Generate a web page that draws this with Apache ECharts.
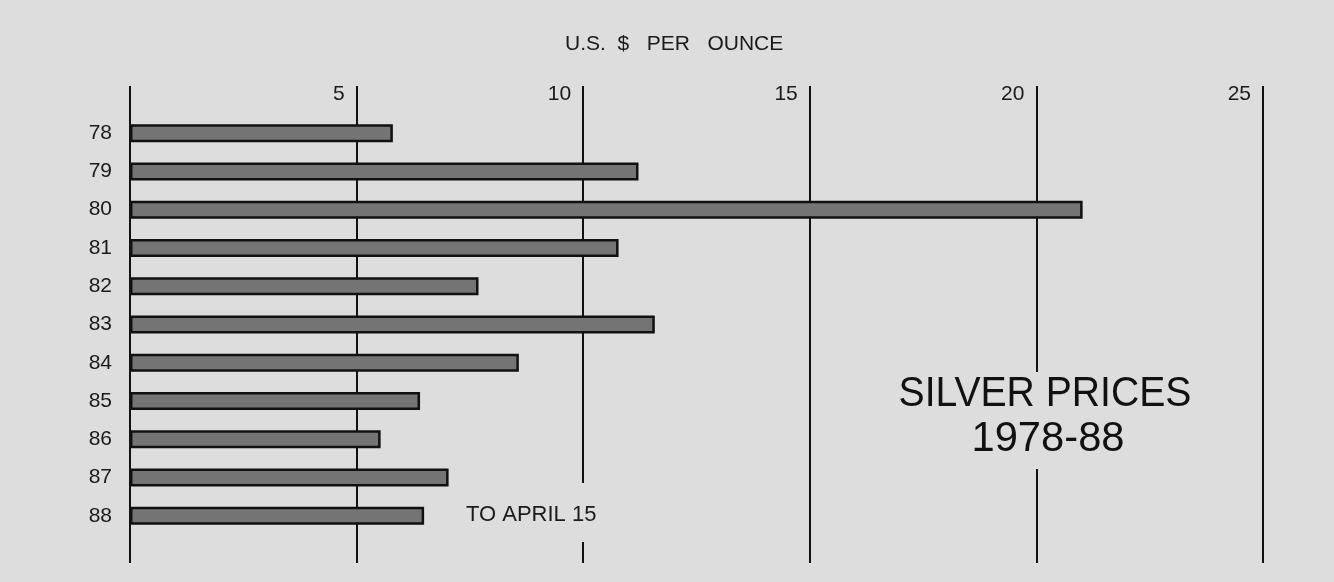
<!DOCTYPE html>
<html>
<head>
<meta charset="utf-8">
<script src="https://cdn.jsdelivr.net/npm/echarts@6/dist/echarts.min.js"></script>
<style>
html,body{margin:0;padding:0;background:#dddddd;}
#silver-chart{width:1334px;height:582px;}
</style>
</head>
<body>
<div id="silver-chart"></div>
<script>
var years=['78','79','80','81','82','83','84','85','86','87','88'];
var prices=[5.80, 11.22, 21.02, 10.78, 7.69, 11.58, 8.58, 6.40, 5.53, 7.03, 6.49];
var priceTicks=[0, 5, 10, 15, 20, 25];

var bg='#dddddd';
var font='"Liberation Sans", Arial, sans-serif';

var chart=echarts.init(document.getElementById('silver-chart'));
var option={
	backgroundColor:bg,
	animation:false,
	grid:[
		{left:130, right:71, top:86, bottom:19},
		{left:130, right:71, top:114, bottom:47}
	],
	xAxis:[{
		gridIndex:0,
		type:'value',
		position:'top',
		min:priceTicks[0],
		max:priceTicks[priceTicks.length-1],
		interval:5,
		axisLine:{show:false},
		axisTick:{show:false},
		splitLine:{show:true, lineStyle:{color:'#111', width:2}},
		axisLabel:{
			inside:true,
			margin:-2,
			align:'right',
			verticalAlign:'top',
			padding:[0,12,0,0],
			fontSize:21,
			fontFamily:font,
			color:'#1a1a1a',
			formatter:function(v){ return v===0 ? '' : String(v); }
		}
	},{
		gridIndex:1,
		type:'value',
		min:0,
		max:25,
		show:false
	}],
	yAxis:[{
		gridIndex:0,
		type:'category',
		data:years,
		show:false
	},{
		gridIndex:1,
		type:'category',
		data:years,
		inverse:true,
		axisLine:{show:false},
		axisTick:{show:false},
		axisLabel:{margin:18, fontSize:21, fontFamily:font, color:'#1a1a1a'}
	}],
	series:[{
		name:'silver',
		type:'bar',
		xAxisIndex:1,
		yAxisIndex:1,
		data:prices,
		barWidth:18,
		itemStyle:{color:'#747474', borderColor:'#111', borderWidth:2.5}
	}],
	graphic:[
		{
			type:'text', x:565, y:34, z:100,
			style:{text:'U.S.  $   PER   OUNCE', font:'21px '+font, fill:'#1a1a1a', verticalAlign:'top'}
		},
		{
			type:'text', x:458, y:483, z:100,
			style:{text:'TO APRIL 15', font:'22px '+font, fill:'#1a1a1a', verticalAlign:'top',
				backgroundColor:bg, padding:[21,8,16,8]}
		},
		{
			type:'text', x:1045, y:372, z:100, scaleX:0.91,
			style:{text:'SILVER PRICES', font:'43px '+font, fill:'#111', align:'center', verticalAlign:'top',
				backgroundColor:bg, padding:[1,12,4,12]}
		},
		{
			type:'text', x:1048, y:414, z:100, scaleX:0.97,
			style:{text:'1978-88', font:'43px '+font, fill:'#111', align:'center', verticalAlign:'top',
				backgroundColor:bg, padding:[4,12,8,12]}
		}
	]
};
chart.setOption(option);
</script>
</body>
</html>
